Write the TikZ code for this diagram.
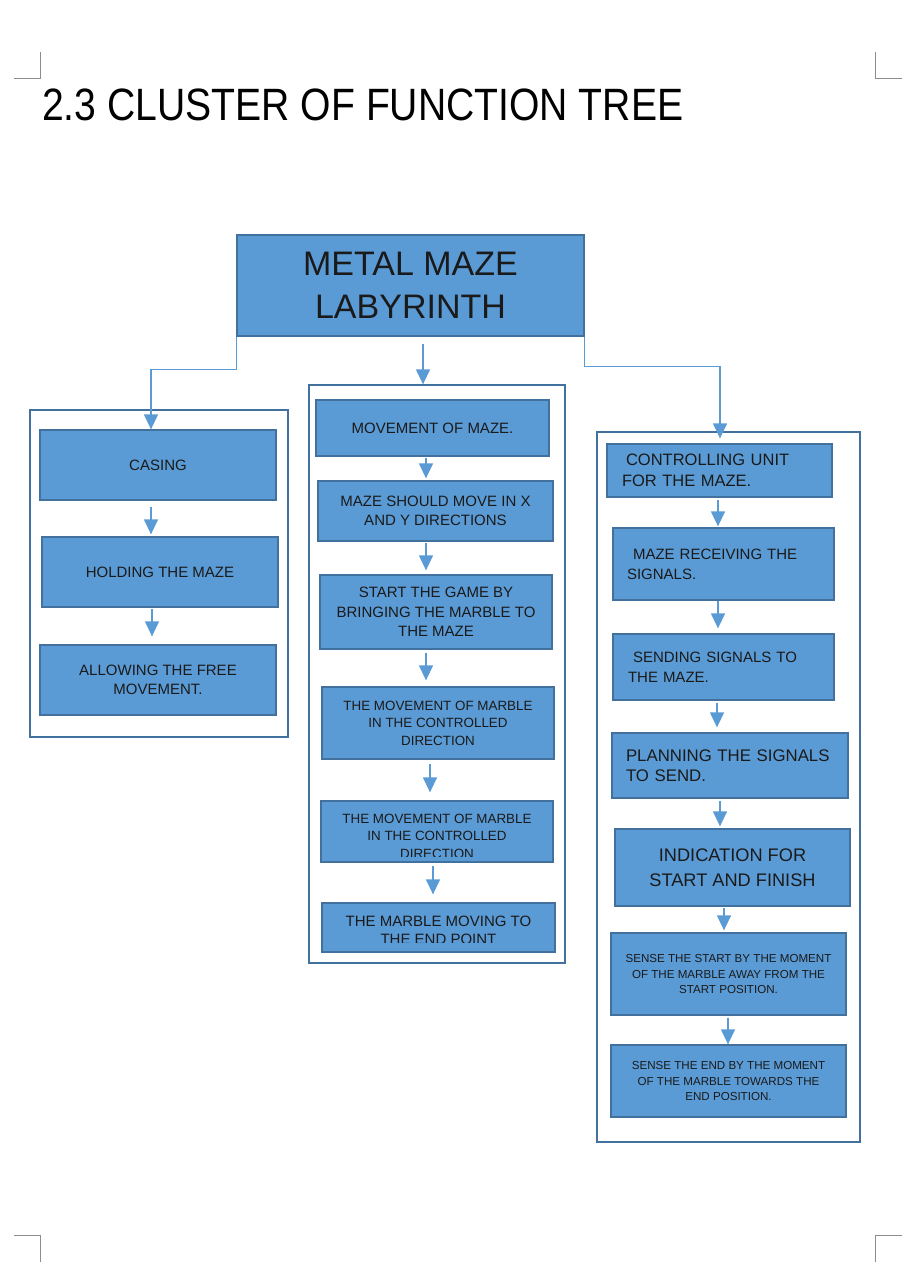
\documentclass[tikz,border=0pt]{standalone}
\usepackage{fontspec}
\setmainfont{Liberation Sans}
\usetikzlibrary{arrows.meta,calc}
\definecolor{boxfill}{HTML}{5B9BD5}
\definecolor{boxborder}{HTML}{41719C}
\definecolor{conn}{HTML}{5B9BD5}
\definecolor{txt}{HTML}{1A1A1A}
\definecolor{mark}{HTML}{8C8C8C}
\tikzset{
  box/.style={draw=boxborder, fill=boxfill, line width=1.3pt, inner sep=0pt, align=center, text=txt},
  lbox/.style={box, align=left},
  cont/.style={draw=boxborder, line width=1.3pt, inner sep=0pt, fill=none},
  arr/.style={draw=conn, line width=1.3pt, -{Triangle[length=15pt,width=14pt]}, color=conn},
  cmark/.style={draw=mark, line width=1pt},
  btext/.style={inner sep=0pt, align=center, text=txt}
}
\begin{document}
\begin{tikzpicture}[x=1pt,y=-1pt]
\fill[white] (0,0) rectangle (914,1280);
\useasboundingbox (0,0) rectangle (914,1280);
% corner marks
\draw[cmark] (40,52) -- (40,78) -- (14,78);
\draw[cmark] (875,52) -- (875,78) -- (902,78);
\draw[cmark] (14,1235) -- (40,1235) -- (40,1262);
\draw[cmark] (902,1235) -- (875,1235) -- (875,1262);
% title
\node[anchor=base west, inner sep=0pt, text=black] (title) at (42,120) {\scalebox{0.889}[1.03]{\fontsize{44}{44}\selectfont 2.3 CLUSTER OF FUNCTION TREE}};
% top box
\node[box, minimum width=347pt, minimum height=101pt, font=\fontsize{34}{43}\selectfont] (top) at (410.5,285.5) {METAL MAZE\\LABYRINTH};
% containers
\node[cont, minimum width=258pt, minimum height=327pt] (lc) at (159,573.5) {};
\node[cont, minimum width=256pt, minimum height=578pt] (mc) at (437,674) {};
\node[cont, minimum width=263pt, minimum height=710pt] (rc) at (728.5,787) {};
% left column
\node[box, minimum width=236pt, minimum height=70pt, font=\fontsize{15}{19.5}\selectfont] (l1) at (158,465) {CASING};
\node[box, minimum width=236pt, minimum height=70pt, font=\fontsize{15}{19.5}\selectfont] (l2) at (160,572) {HOLDING THE MAZE};
\node[box, minimum width=236pt, minimum height=70pt, font=\fontsize{15}{19.5}\selectfont] (l3) at (158,680) {ALLOWING THE FREE\\MOVEMENT.};
% middle column
\node[box, minimum width=233pt, minimum height=56pt, font=\fontsize{15}{19.5}\selectfont] (m1) at (432.5,428) {MOVEMENT OF MAZE.};
\node[box, minimum width=235pt, minimum height=60pt, font=\fontsize{15}{19.5}\selectfont] (m2) at (435.5,511) {MAZE SHOULD MOVE IN X\\AND Y DIRECTIONS};
\node[box, minimum width=232pt, minimum height=74pt, font=\fontsize{15}{19.5}\selectfont] (m3) at (436,612) {START THE GAME BY\\BRINGING THE MARBLE TO\\THE MAZE};
\node[box, minimum width=232pt, minimum height=72pt, font=\fontsize{13.4}{17.5}\selectfont] (m4) at (438,723) {THE MOVEMENT OF MARBLE\\IN THE CONTROLLED\\DIRECTION};
\node[box, minimum width=232pt, minimum height=61pt] (m5) at (437,831.5) {};
\begin{scope}
\clip (321,801) rectangle (553,856.8);
\node[btext, anchor=north, font=\fontsize{13.4}{17.5}\selectfont] (m5t) at (437,813.5) {THE MOVEMENT OF MARBLE\\IN THE CONTROLLED\\DIRECTION};
\end{scope}
\node[box, minimum width=233pt, minimum height=49pt] (m6) at (438.5,927.5) {};
\begin{scope}
\clip (322,903) rectangle (555,942.8);
\node[btext, anchor=north, font=\fontsize{15}{18.5}\selectfont] (m6t) at (438.5,915.5) {THE MARBLE MOVING TO\\THE END POINT};
\end{scope}
% right column
\node[lbox, minimum width=225pt, minimum height=53pt, inner xsep=15pt, text width=195pt, font=\fontsize{16.5}{21}\selectfont] (r1) at (719.5,470.5) {\hspace*{4pt}CONTROLLING UNIT\\FOR THE MAZE.};
\node[lbox, minimum width=221pt, minimum height=72pt, inner xsep=14pt, text width=193pt, font=\fontsize{15}{20}\selectfont] (r2) at (723.5,564) {\hspace*{6pt}MAZE RECEIVING THE\\SIGNALS.};
\node[lbox, minimum width=221pt, minimum height=66pt, inner xsep=15pt, text width=191pt, font=\fontsize{15}{20}\selectfont] (r3) at (723.5,667) {\hspace*{5pt}SENDING SIGNALS TO\\THE MAZE.};
\node[lbox, minimum width=236pt, minimum height=65pt, inner xsep=14pt, text width=208pt, font=\fontsize{16.8}{20.5}\selectfont] (r4) at (730,765.5) {PLANNING THE SIGNALS\\TO SEND.};
\node[box, minimum width=235pt, minimum height=77pt, font=\fontsize{18.2}{24.5}\selectfont] (r5) at (732.5,867.5) {INDICATION FOR\\START AND FINISH};
\node[box, minimum width=235pt, minimum height=82pt, font=\fontsize{11.6}{15.5}\selectfont] (r6) at (728.5,974) {SENSE THE START BY THE MOMENT\\OF THE MARBLE AWAY FROM THE\\START POSITION.};
\node[box, minimum width=235pt, minimum height=72pt, font=\fontsize{11.6}{15.5}\selectfont] (r7) at (728.5,1081) {SENSE THE END BY THE MOMENT\\OF THE MARBLE TOWARDS THE\\END POSITION.};
% connectors from top
\draw[arr] (top.south west) -- ++(0,33) -| (151,0 |- l1.north);
\draw[arr, shorten <=7pt] (423,0 |- top.south) -- (423,0 |- mc.north);
\draw[arr, shorten >=5pt] (top.south east) -- ++(0,30) -| (720,0 |- r1.north);
% left arrows
\draw[arr, shorten <=6pt, shorten >=2pt] (151,0 |- l1.south) -- (151,0 |- l2.north);
\draw[arr, shorten <=1pt, shorten >=8pt] (152,0 |- l2.south) -- (152,0 |- l3.north);
% middle arrows
\draw[arr, shorten <=1pt, shorten >=2pt] (426,0 |- m1.south) -- (426,0 |- m2.north);
\draw[arr, shorten <=1pt, shorten >=4pt] (426,0 |- m2.south) -- (426,0 |- m3.north);
\draw[arr, shorten <=3pt, shorten >=6pt] (426,0 |- m3.south) -- (426,0 |- m4.north);
\draw[arr, shorten <=4pt, shorten >=8pt] (430,0 |- m4.south) -- (430,0 |- m5.north);
\draw[arr, shorten <=3pt, shorten >=8pt] (433,0 |- m5.south) -- (433,0 |- m6.north);
% right arrows
\draw[arr, shorten <=2pt, shorten >=1pt] (718,0 |- r1.south) -- (718,0 |- r2.north);
\draw[arr, shorten <=0pt, shorten >=5pt] (718,0 |- r2.south) -- (718,0 |- r3.north);
\draw[arr, shorten <=2pt, shorten >=5pt] (717,0 |- r3.south) -- (717,0 |- r4.north);
\draw[arr, shorten <=2pt, shorten >=2pt] (720,0 |- r4.south) -- (720,0 |- r5.north);
\draw[arr, shorten <=1pt, shorten >=2pt] (724,0 |- r5.south) -- (724,0 |- r6.north);
\draw[arr, shorten <=2pt, shorten >=0pt] (728,0 |- r6.south) -- (728,0 |- r7.north);
\end{tikzpicture}
\end{document}
